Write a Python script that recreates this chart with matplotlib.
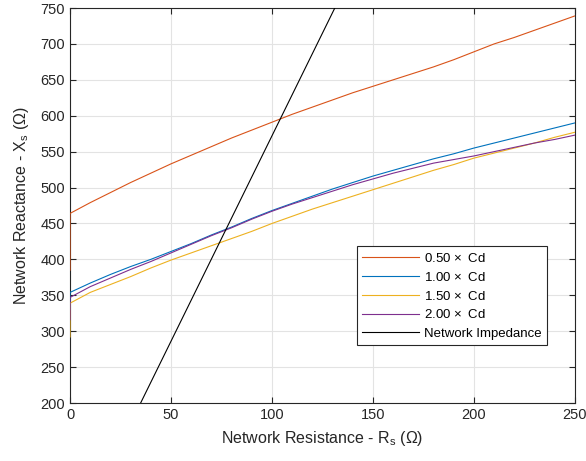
import numpy as np
import matplotlib
matplotlib.use('Agg')
import matplotlib.pyplot as plt

#################################################
# data (R_s in Ohm, X_s in Ohm)

Rs = [0, 0, 10, 20, 30, 40, 50, 60, 70, 80, 90, 100, 110, 120, 130, 140,
      150, 160, 170, 180, 190, 200, 210, 220, 230, 240, 250]

Xs_050 = [385, 464, 479, 493, 507, 520, 533, 545, 557, 569, 580, 591, 602,
          612, 622, 632, 641, 650, 659, 668, 678, 689, 700, 709, 719, 729, 739]
Xs_100 = [330, 354, 367, 379, 390, 400, 411, 422, 434, 445, 457, 468, 478,
          488, 498, 507, 516, 524, 532, 540, 547, 555, 562, 569, 576, 583, 590]
Xs_150 = [292, 339, 354, 365, 376, 388, 399, 409, 419, 429, 439, 450, 460,
          470, 479, 488, 497, 506, 515, 524, 532, 541, 548, 555, 562, 570, 577]
Xs_200 = [316, 347, 362, 374, 386, 397, 409, 421, 433, 444, 456, 467, 477,
          486, 495, 504, 512, 520, 527, 534, 539, 544, 550, 556, 562, 567, 573]

Imp_R = [0, 250]
Imp_X = [0, 1430]

Labels = [r'0.50$\,\times$ Cd', r'1.00$\,\times$ Cd', r'1.50$\,\times$ Cd',
          r'2.00$\,\times$ Cd', 'Network Impedance']

#################################################

plt.rcParams['font.family'] = ['Liberation Sans', 'DejaVu Sans']
plt.rcParams['mathtext.fontset'] = 'custom'
plt.rcParams['mathtext.rm'] = 'Liberation Sans'
plt.rcParams['mathtext.it'] = 'Liberation Sans'

fig = plt.figure(figsize=(5.86, 4.61), dpi=100)
ax = fig.add_axes([0.1195, 0.1258, 0.8615, 0.8568])

lw = 0.8
ax.plot(Rs, Xs_050, color='#D95319', lw=lw, label=Labels[0], zorder=3)
ax.plot(Rs, Xs_100, color='#0072BD', lw=lw, label=Labels[1], zorder=3)
ax.plot(Rs, Xs_150, color='#EDB120', lw=lw, label=Labels[2], zorder=3)
ax.plot(Rs, Xs_200, color='#7E2F8E', lw=lw, label=Labels[3], zorder=3)
ax.plot(Imp_R, Imp_X, color='k', lw=lw, label=Labels[4], zorder=3)

ax.set_xlim(0, 250)
ax.set_ylim(200, 750)
ax.set_xticks(np.arange(0, 251, 50))
ax.set_yticks(np.arange(200, 751, 50))
ax.grid(True, color='#e3e3e3', lw=0.8)
ax.set_axisbelow(True)
ax.tick_params(direction='in', top=True, right=True, labelsize=10.5,
               color='#262626', labelcolor='#262626', length=4)
for s in ax.spines.values():
    s.set_color('#262626')
    s.set_linewidth(0.8)

ax.set_xlabel(r'Network Resistance - R$_\mathrm{s}$ ($\Omega$)', fontsize=11.5, color='#262626', labelpad=5)
ax.set_ylabel(r'Network Reactance - X$_\mathrm{s}$ ($\Omega$)', fontsize=11.5, color='#262626', labelpad=7)

leg = ax.legend(loc='lower left', bbox_to_anchor=(0.568, 0.147), fontsize=9.5,
                fancybox=False, framealpha=1, edgecolor='#262626',
                handlelength=4.3, handletextpad=0.4, borderpad=0.4,
                labelspacing=0.45, borderaxespad=0)
leg.get_frame().set_linewidth(0.8)
leg.set_zorder(5)

plt.savefig('out.png', dpi=100)
